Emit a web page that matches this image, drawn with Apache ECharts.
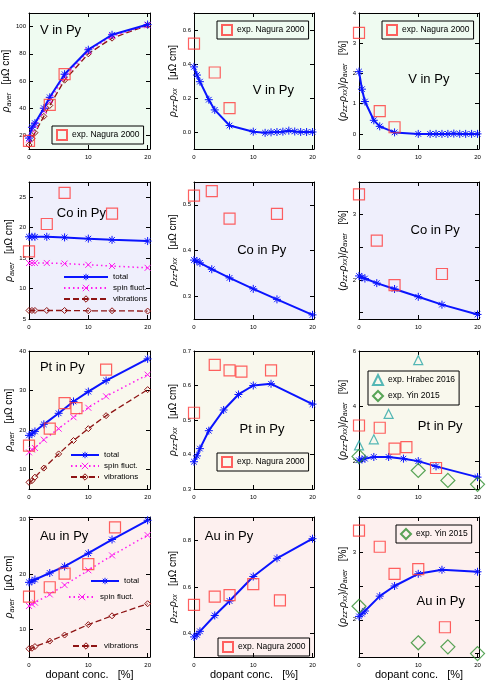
<!DOCTYPE html>
<html>
<head>
<meta charset="utf-8">
<script src="https://cdn.jsdelivr.net/npm/echarts@6/dist/echarts.min.js"></script>
<style>
    html, body { margin: 0; padding: 0; background: #fff; }
    #chart { width: 491px; height: 687px; }
</style>
</head>
<body>
<div id="chart"></div>
<script>
'use strict';

// ---------- 数据 (dopant conc. in %) ----------

// V in Py
const concV = [0, 0.5, 1, 2.5, 3.5, 6, 10, 14, 20];
const avgTotalV = [18, 26, 29, 40, 48, 65, 83, 94, 101.5];
const avgSpinV = [17, 24, 27.5, 38, 46, 63, 82, 93, 101];
const avgVibV = [13, 17.6, 22, 34, 42, 60.6, 80, 91.5, 101];
const concVFine = [0, 0.5, 1, 2.5, 3.5, 6, 10, 12, 13, 14, 15, 16, 17, 18, 19, 20];
const diffV = [0.383, 0.335, 0.296, 0.19, 0.13, 0.038, 0.002, -0.005, -0.002, 0, 0.002, 0.008, 0.003, 0, 0, 0];
const ratioV = [2.06, 1.48, 1.07, 0.45, 0.25, 0.05, 0, 0, 0, 0, 0, 0.01, 0, 0, 0, 0];
const expConcV = [0, 3.5, 6];
const expAvgV = [16, 42.5, 65];
const expDiffV = [0.52, 0.35, 0.14];
const expRatioV = [3.34, 0.75, 0.22];

// Co in Py
const concCo = [0, 0.5, 1, 3, 6, 10, 14, 20];
const avgTotalCo = [18.5, 18.5, 18.5, 18.5, 18.4, 18.2, 18.0, 17.8];
const avgSpinCo = [14.2, 14.2, 14.2, 14.2, 14.1, 13.9, 13.7, 13.4];
const avgVibCo = [6.4, 6.4, 6.4, 6.4, 6.4, 6.35, 6.35, 6.3];
const diffCo = [0.379, 0.377, 0.373, 0.359, 0.34, 0.316, 0.293, 0.259];
const ratioCo = [2.06, 2.04, 2.02, 1.95, 1.86, 1.74, 1.62, 1.47];
const expConcCo = [0, 3, 6, 14];
const expAvgCo = [16.1, 20.6, 25.7, 22.3];
const expDiffCo = [0.52, 0.53, 0.47, 0.48];
const expRatioCo = [3.31, 2.6, 1.92, 2.09];

// Pt in Py
const concPt = [0, 0.5, 1, 2.5, 5, 7.5, 10, 13, 20];
const avgTotalPt = [18.6, 19.0, 19.6, 21.4, 24.2, 27.2, 29.7, 32.5, 38];
const avgSpinPt = [14.3, 15.0, 15.4, 17.5, 20.3, 23.2, 25.6, 28.5, 34];
const avgVibPt = [6.7, 7.1, 8.0, 10.3, 13.9, 17.3, 20.3, 23.6, 30.2];
const diffPt = [0.379, 0.396, 0.417, 0.469, 0.529, 0.574, 0.6, 0.605, 0.546];
const ratioPt = [2.04, 2.07, 2.1, 2.16, 2.16, 2.1, 2.01, 1.82, 1.43];
const expConcPt = [0, 3.5, 6, 8, 13];
const expAvgPt = [16, 20.3, 26.8, 25.5, 35.3];
const expDiffPt = [0.521, 0.66, 0.644, 0.64, 0.644];
const expRatioPt = [3.3, 3.22, 2.46, 2.52, 1.76];
const hrabecConcPt = [0, 2.5, 5, 10];
const hrabecRatioPt = [2.58, 2.8, 3.72, 5.67];
const yinConcPt = [0, 10, 15, 20];
const yinRatioPt = [2.18, 1.67, 1.31, 1.17];

// Au in Py
const concAu = [0, 0.5, 1, 3.5, 6, 10, 14, 20];
const avgTotalAu = [18.6, 18.8, 19.1, 20.3, 21.5, 23.9, 26.4, 29.9];
const avgSpinAu = [14.3, 14.6, 14.9, 16.4, 18.1, 20.8, 23.5, 27.2];
const avgVibAu = [6.5, 6.6, 6.9, 7.9, 9.0, 10.9, 12.5, 14.7];
const diffAu = [0.386, 0.395, 0.41, 0.478, 0.54, 0.645, 0.723, 0.807];
const ratioAu = [2.05, 2.09, 2.13, 2.35, 2.5, 2.68, 2.74, 2.71];
const expConcAu = [0, 3.5, 6, 10, 14.5];
const expAvgAu = [16, 17.7, 20.2, 21.9, 28.6];
const expDiffAu = [0.523, 0.559, 0.565, 0.612, 0.543];
const expRatioAu = [3.32, 3.08, 2.68, 2.75, 1.89];
const yinConcAu = [0, 10, 15, 20];
const yinRatioAu = [2.2, 1.66, 1.6, 1.5];

// 刻度
const xTicks = [0, 10, 20];
const avgTicksV = [20, 40, 60, 80, 100];
const avgTicksCo = [5, 10, 15, 20, 25];
const avgTicksPt = [10, 20, 30, 40];
const avgTicksAu = [10, 20, 30];
const diffTicksV = [0, 0.2, 0.4, 0.6];
const diffTicksCo = [0.3, 0.4, 0.5];
const diffTicksPt = [0.3, 0.4, 0.5, 0.6, 0.7];
const diffTicksAu = [0.4, 0.6, 0.8];
const ratioTicksV = [0, 1, 2, 3, 4];
const ratioTicksCo = [1.5, 2, 2.5, 3];
const ratioLabelsCo = [2, 3];
const ratioTicksPt = [2, 4, 6];
const ratioTicksAu = [1.5, 2, 2.5, 3];
const ratioLabelsAu = [2, 3];

// ---------- 样式 ----------
const FONT = '"Liberation Sans", Arial, Helvetica, sans-serif';
const BLUE = '#0a14ff';
const MAGENTA = '#ff1cf0';
const DARKRED = '#8e1414';
const RED = '#ff3a3a';
const TEAL = '#2aa6a6';
const GREEN = '#2f8f2f';
const CLEAR = 'rgba(0,0,0,0)';
const ROW_BG = ['#effbf1', '#efeffc', '#f9f8ed', '#fdf0ef'];

const COL_LEFT = [29, 194, 359];
const COL_WIDTH = [121, 120, 120];
const COL_XMAX = [20.4, 20.25, 20.25];
const ROW_TOP = [13, 182, 351, 517];
const ROW_HEIGHT = [136, 137, 138, 140];

const STAR = 'path://M5,0L5,10M0,5L10,5M1.5,1.5L8.5,8.5M1.5,8.5L8.5,1.5';
const CROSS = 'path://M0,0L10,10M0,10L10,0';

const LINE_STYLES = {
    total: { name: 'total', symbol: STAR, size: 8, color: BLUE, fill: BLUE, width: 2, type: 'solid', z: 5 },
    spin: { name: 'spin fluct.', symbol: CROSS, size: 6, color: MAGENTA, fill: MAGENTA, width: 1.5, type: [1.5, 3], z: 4 },
    vib: { name: 'vibrations', symbol: 'diamond', size: 6, color: DARKRED, fill: CLEAR, width: 1.3, type: [6, 3], z: 3 }
};
const EXP_STYLES = {
    nagura: { name: 'exp. Nagura 2000', symbol: 'rect', size: 11, color: RED },
    hrabec: { name: 'exp. Hrabec 2016', symbol: 'triangle', size: 9, color: TEAL },
    yin: { name: 'exp. Yin 2015', symbol: 'diamond', size: 14, color: GREEN }
};

const NAME_RICH = {
    t: { fontSize: 10, fontFamily: FONT, color: '#000' },
    i: { fontSize: 10, fontFamily: FONT, fontStyle: 'italic', color: '#000' },
    s: { fontSize: 7, fontFamily: FONT, fontStyle: 'italic', color: '#000', verticalAlign: 'bottom', padding: [5, 0, 0, 0] }
};
const Y_NAMES = [
    '{i|ρ}{s|aver}{t|   [μΩ cm]}',
    '{i|ρ}{s|zz}{t|-}{i|ρ}{s|xx}{t|   [μΩ cm]}',
    '{t|(}{i|ρ}{s|zz}{t|-}{i|ρ}{s|xx}{t|)/}{i|ρ}{s|aver}{t|   [%]}'
];

function pairs(xs, ys) {
    return xs.map((x, k) => [x, ys[k]]);
}

// 计算曲线 (带符号的折线)
function calcLine(kind, panel, xs, ys) {
    const st = LINE_STYLES[kind];
    return {
        name: st.name,
        type: 'line',
        xAxisIndex: panel,
        yAxisIndex: panel,
        data: pairs(xs, ys),
        symbol: st.symbol,
        symbolSize: st.size,
        showAllSymbol: true,
        clip: false,
        itemStyle: { color: st.fill, borderColor: st.color, borderWidth: 1 },
        lineStyle: { color: st.color, width: st.width, type: st.type },
        z: st.z
    };
}

// 实验点 (空心符号)
function expPoints(kind, panel, xs, ys) {
    const st = EXP_STYLES[kind];
    return {
        name: st.name,
        type: 'scatter',
        xAxisIndex: panel,
        yAxisIndex: panel,
        data: pairs(xs, ys),
        symbol: st.symbol,
        symbolSize: st.size,
        clip: false,
        itemStyle: { color: CLEAR, borderColor: st.color, borderWidth: 1.2 },
        z: 6
    };
}

// 12 个子图, 按行排列
const panels = [
    { yMin: 10, yMax: 110, ticks: avgTicksV, digits: 0, text: 'V in Py', pos: [0.09, 0.125],
      series: i => [calcLine('vib', i, concV, avgVibV), calcLine('spin', i, concV, avgSpinV),
                    calcLine('total', i, concV, avgTotalV), expPoints('nagura', i, expConcV, expAvgV)] },
    { yMin: -0.1, yMax: 0.7, ticks: diffTicksV, digits: 1, text: 'V in Py', pos: [0.49, 0.57],
      series: i => [calcLine('total', i, concVFine, diffV), expPoints('nagura', i, expConcV, expDiffV)] },
    { yMin: -0.5, yMax: 4, ticks: ratioTicksV, digits: 0, text: 'V in Py', pos: [0.41, 0.49],
      series: i => [calcLine('total', i, concVFine, ratioV), expPoints('nagura', i, expConcV, expRatioV)] },

    { yMin: 5, yMax: 27.5, ticks: avgTicksCo, digits: 0, text: 'Co in Py', pos: [0.23, 0.23],
      series: i => [calcLine('vib', i, concCo, avgVibCo), calcLine('spin', i, concCo, avgSpinCo),
                    calcLine('total', i, concCo, avgTotalCo), expPoints('nagura', i, expConcCo, expAvgCo)] },
    { yMin: 0.25, yMax: 0.55, ticks: diffTicksCo, digits: 1, text: 'Co in Py', pos: [0.36, 0.5],
      series: i => [calcLine('total', i, concCo, diffCo), expPoints('nagura', i, expConcCo, expDiffCo)] },
    { yMin: 1.4, yMax: 3.5, ticks: ratioTicksCo, labels: ratioLabelsCo, digits: 0, text: 'Co in Py', pos: [0.43, 0.35],
      series: i => [calcLine('total', i, concCo, ratioCo), expPoints('nagura', i, expConcCo, expRatioCo)] },

    { yMin: 5, yMax: 40, ticks: avgTicksPt, digits: 0, text: 'Pt in Py', pos: [0.09, 0.12],
      series: i => [calcLine('vib', i, concPt, avgVibPt), calcLine('spin', i, concPt, avgSpinPt),
                    calcLine('total', i, concPt, avgTotalPt), expPoints('nagura', i, expConcPt, expAvgPt)] },
    { yMin: 0.3, yMax: 0.7, ticks: diffTicksPt, digits: 1, text: 'Pt in Py', pos: [0.38, 0.57],
      series: i => [calcLine('total', i, concPt, diffPt), expPoints('nagura', i, expConcPt, expDiffPt)] },
    { yMin: 1, yMax: 6, ticks: ratioTicksPt, digits: 0, text: 'Pt in Py', pos: [0.49, 0.55],
      series: i => [calcLine('total', i, concPt, ratioPt), expPoints('nagura', i, expConcPt, expRatioPt),
                    expPoints('hrabec', i, hrabecConcPt, hrabecRatioPt), expPoints('yin', i, yinConcPt, yinRatioPt)] },

    { yMin: 5, yMax: 30.5, ticks: avgTicksAu, digits: 0, text: 'Au in Py', pos: [0.09, 0.14],
      series: i => [calcLine('vib', i, concAu, avgVibAu), calcLine('spin', i, concAu, avgSpinAu),
                    calcLine('total', i, concAu, avgTotalAu), expPoints('nagura', i, expConcAu, expAvgAu)] },
    { yMin: 0.3, yMax: 0.9, ticks: diffTicksAu, digits: 1, text: 'Au in Py', pos: [0.09, 0.14],
      series: i => [calcLine('total', i, concAu, diffAu), expPoints('nagura', i, expConcAu, expDiffAu)] },
    { yMin: 1.45, yMax: 3.52, ticks: ratioTicksAu, labels: ratioLabelsAu, digits: 0, text: 'Au in Py', pos: [0.48, 0.6],
      series: i => [calcLine('total', i, concAu, ratioAu), expPoints('nagura', i, expConcAu, expRatioAu),
                    expPoints('yin', i, yinConcAu, yinRatioAu)] }
];

function gridRect(i) {
    const r = Math.floor(i / 3), c = i % 3;
    return { left: COL_LEFT[c], top: ROW_TOP[r], width: COL_WIDTH[c], height: ROW_HEIGHT[r] };
}

const tickLabelStyle = { fontSize: 6, color: '#000', fontFamily: FONT };

function xAxisFor(i, mirror) {
    const r = Math.floor(i / 3), c = i % 3;
    const withName = !mirror && r === 3;
    return {
        type: 'value',
        gridIndex: i,
        min: 0,
        max: COL_XMAX[c],
        position: mirror ? 'top' : 'bottom',
        axisLine: { show: true, onZero: false, lineStyle: { color: '#000', width: 1 } },
        axisTick: { show: true, inside: true, length: 4, customValues: xTicks, lineStyle: { color: '#000' } },
        axisLabel: { show: !mirror, customValues: xTicks, margin: 5, ...tickLabelStyle },
        splitLine: { show: false },
        name: withName ? 'dopant conc.   [%]' : '',
        nameLocation: 'middle',
        nameGap: 12,
        nameTextStyle: { fontSize: 11, color: '#000', fontFamily: FONT }
    };
}

function yAxisFor(i, mirror) {
    const p = panels[i], c = i % 3;
    return {
        type: 'value',
        gridIndex: i,
        min: p.yMin,
        max: p.yMax,
        position: mirror ? 'right' : 'left',
        axisLine: { show: true, onZero: false, lineStyle: { color: '#000', width: 1 } },
        axisTick: { show: true, inside: true, length: 4, customValues: p.ticks, lineStyle: { color: '#000' } },
        axisLabel: {
            show: !mirror,
            customValues: p.labels || p.ticks,
            formatter: v => Number(v).toFixed(p.digits),
            margin: 3,
            ...tickLabelStyle
        },
        splitLine: { show: false },
        name: mirror ? '' : Y_NAMES[c],
        nameLocation: 'middle',
        nameRotate: 90,
        nameGap: 7,
        nameTextStyle: { rich: NAME_RICH }
    };
}

// 图例
const legendText = { fontSize: 8.5, color: '#000', fontFamily: FONT };
const CALC_LEGEND_ITEMS = {
    total: { name: 'total', itemStyle: { color: BLUE, borderColor: BLUE, borderWidth: 1 } },
    spin: { name: 'spin fluct.', itemStyle: { color: MAGENTA, borderColor: MAGENTA, borderWidth: 1 } },
    vib: { name: 'vibrations', itemStyle: { color: CLEAR, borderColor: DARKRED, borderWidth: 1 } }
};
function boxLegend(names, left, top) {
    return {
        data: names, left: left, top: top, orient: 'vertical', selectedMode: false,
        borderColor: '#000', borderWidth: 1, padding: [3, 4], itemWidth: 10, itemHeight: 10, itemGap: 4,
        itemStyle: { color: CLEAR },
        textStyle: legendText
    };
}
function calcLegend(kinds, left, top, itemWidth) {
    return {
        data: kinds.map(k => CALC_LEGEND_ITEMS[k]), left: left, top: top, orient: 'vertical', selectedMode: false,
        padding: 0, itemWidth: itemWidth, itemHeight: 8, itemGap: 3,
        textStyle: { ...legendText, fontSize: 8 }
    };
}
const ALL_CALC = ['total', 'spin', 'vib'];
const legends = [
    boxLegend(['exp. Nagura 2000'], 52, 126),
    boxLegend(['exp. Nagura 2000'], 217, 21),
    boxLegend(['exp. Nagura 2000'], 382, 21),
    calcLegend(ALL_CALC, 63, 273, 44),
    calcLegend(ALL_CALC, 70, 451, 28),
    boxLegend(['exp. Nagura 2000'], 217, 453),
    boxLegend(['exp. Hrabec 2016', 'exp. Yin 2015'], 368, 371),
    calcLegend(['total'], 90, 577, 28),
    calcLegend(['spin'], 68, 593, 26),
    calcLegend(['vib'], 72, 642, 26),
    boxLegend(['exp. Nagura 2000'], 218, 638),
    boxLegend(['exp. Yin 2015'], 396, 525)
];

// 子图内文字 (按 graph 坐标比例放置)
const panelTexts = panels.map((p, i) => {
    const g = gridRect(i);
    return {
        type: 'text',
        x: g.left + p.pos[0] * g.width,
        y: g.top + p.pos[1] * g.height,
        style: { text: p.text, fontSize: 13, fontFamily: FONT, fill: '#000', verticalAlign: 'middle' },
        z: 10
    };
});

const chart = echarts.init(document.getElementById('chart'));

const option = {
    animation: false,
    backgroundColor: '#fff',
    grid: panels.map((p, i) => ({
        ...gridRect(i),
        show: true,
        backgroundColor: ROW_BG[Math.floor(i / 3)],
        borderWidth: 0,
        containLabel: false,
        outerBoundsMode: 'none'
    })),
    xAxis: panels.map((p, i) => xAxisFor(i, false)).concat(panels.map((p, i) => xAxisFor(i, true))),
    yAxis: panels.map((p, i) => yAxisFor(i, false)).concat(panels.map((p, i) => yAxisFor(i, true))),
    legend: legends,
    graphic: panelTexts,
    series: panels.flatMap((p, i) => p.series(i))
};

chart.setOption(option);
</script>
</body>
</html>
